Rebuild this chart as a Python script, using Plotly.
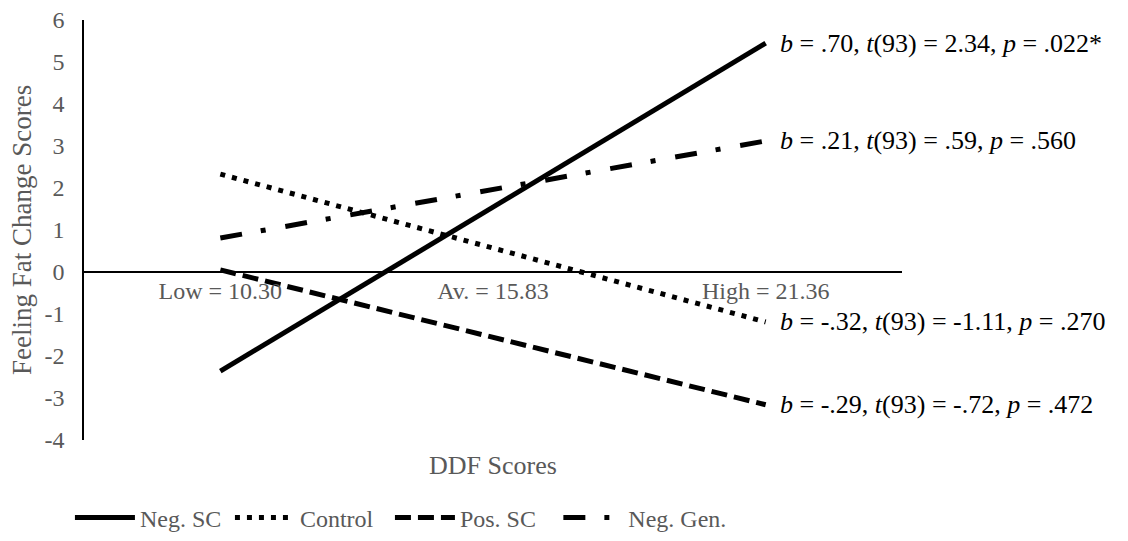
import plotly.graph_objects as go

# ---- data ----
categories = ["Low = 10.30", "Av. = 15.83", "High = 21.36"]
end_points = ["Low = 10.30", "High = 21.36"]
series_names = ["Neg. SC", "Control", "Pos. SC", "Neg. Gen."]
neg_sc = [-2.36, 5.45]
control = [2.33, -1.19]
pos_sc = [0.05, -3.16]
neg_gen = [0.81, 3.12]
stats_text = [
    "<i>b</i> = .70, <i>t</i>(93) = 2.34, <i>p</i> = .022*",
    "<i>b</i> = -.32, <i>t</i>(93) = -1.11, <i>p</i> = .270",
    "<i>b</i> = -.29, <i>t</i>(93) = -.72, <i>p</i> = .472",
    "<i>b</i> = .21, <i>t</i>(93) = .59, <i>p</i> = .560",
]
y_ticks = [-4, -3, -2, -1, 0, 1, 2, 3, 4, 5, 6]
y_tick_labels = ["-4", "-3", "-2", "-1", "0", "1", "2", "3", "4", "5", "6"]

FONT = "Liberation Serif, Times New Roman, serif"
GRAY = "#595959"

series_vals = [neg_sc, control, pos_sc, neg_gen]
dashes = ["solid", "5px,7px", "16px,7px", "22px,19px,5px,20px"]
legend_ids = ["legend", "legend", "legend", "legend2"]

fig = go.Figure()
for name, vals, dash, lg in zip(series_names, series_vals, dashes, legend_ids):
    fig.add_trace(go.Scatter(
        x=end_points, y=vals, name=name, mode="lines", legend=lg,
        line=dict(color="black", width=5, dash=dash),
    ))

for vals, txt in zip(series_vals, stats_text):
    fig.add_annotation(
        x=end_points[-1], y=vals[-1], text=txt, showarrow=False,
        xanchor="left", yanchor="middle", xshift=12,
        font=dict(family=FONT, size=26, color="black"),
    )

fig.add_annotation(
    x=0.5, y=-0.021, xref="paper", yref="paper", text="DDF Scores",
    showarrow=False, xanchor="center", yanchor="top",
    font=dict(family=FONT, size=26, color=GRAY),
)
fig.add_annotation(
    x=-0.0758, y=0.5, xref="paper", yref="paper", text="Feeling Fat Change Scores",
    showarrow=False, xanchor="center", yanchor="middle", textangle=-90,
    font=dict(family=FONT, size=27, color=GRAY),
)

legend_common = dict(
    orientation="h", xanchor="left", xref="container",
    y=0.001, yanchor="bottom", yref="container",
    font=dict(family=FONT, size=24, color=GRAY),
    itemwidth=60, bgcolor="rgba(0,0,0,0)",
)

fig.update_layout(
    width=1128, height=541,
    margin=dict(l=84, r=226, t=20, b=101, autoexpand=False),
    paper_bgcolor="white", plot_bgcolor="white",
    font=dict(family=FONT, size=24, color=GRAY),
    showlegend=True,
    legend=dict(x=0.062, entrywidth=85, **legend_common),
    legend2=dict(x=0.495, **legend_common),
    xaxis=dict(
        type="category", categoryorder="array", categoryarray=categories,
        range=[-0.5, 2.5], anchor="free", position=0.4, automargin=False,
        showline=True, linecolor="black", linewidth=2,
        showgrid=False, zeroline=False, ticks="",
        tickfont=dict(family=FONT, size=24, color=GRAY),
        ticklabelstandoff=-3,
    ),
    yaxis=dict(
        range=[-4, 6], tickvals=y_ticks, ticktext=y_tick_labels,
        showgrid=False, zeroline=False, automargin=False,
        showline=True, linecolor="black", linewidth=1.5, ticks="",
        tickfont=dict(family=FONT, size=24, color=GRAY),
        ticklabelstandoff=13,
    ),
)

fig.write_html("out.html", config={"displayModeBar": False},
               post_script="document.body.style.margin='0';")
